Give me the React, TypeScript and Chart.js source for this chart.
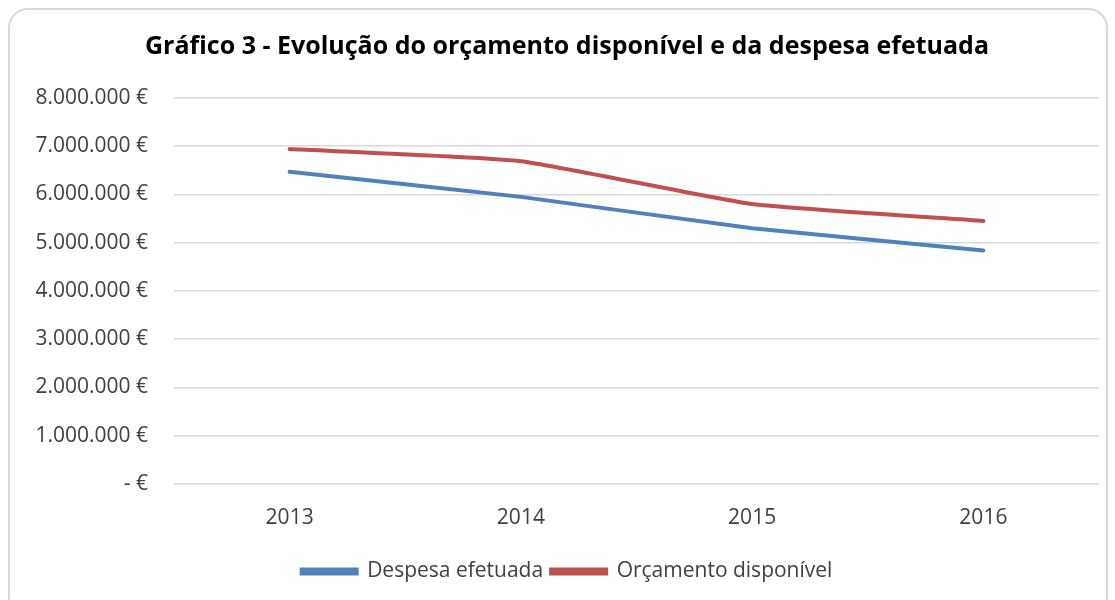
import React, { useEffect, useRef } from "react";
import { Chart, registerables } from "chart.js";

Chart.register(...registerables);

const categories = ["2013", "2014", "2015", "2016"];
const despesaEfetuada = [6470000, 5950000, 5300000, 4840000];
const orcamentoDisponivel = [6940000, 6690000, 5800000, 5450000];
const yTicks = [0, 1000000, 2000000, 3000000, 4000000, 5000000, 6000000, 7000000, 8000000];
const titleText = "Gráfico 3 - Evolução do orçamento disponível e da despesa efetuada";
const seriesNames = ["Despesa efetuada", "Orçamento disponível"];

function fmt(v: number): string {
  if (v === 0) return "- €";
  return String(Math.round(v)).replace(/\B(?=(\d{3})+(?!\d))/g, ".") + " €";
}

const FONT = "'Open Sans'";
const PAD_LEFT = 35;

export default function App() {
  const ref = useRef<HTMLCanvasElement | null>(null);
  useEffect(() => {
    if (!ref.current) return;
    const chart = new Chart(ref.current, {
      type: "line",
      data: {
        labels: categories,
        datasets: [
          {
            label: seriesNames[0],
            data: despesaEfetuada,
            borderColor: "#4F81BD",
            backgroundColor: "#4F81BD",
            borderWidth: 4,
            pointRadius: 0,
            tension: 0.15,
            borderCapStyle: "round",
          },
          {
            label: seriesNames[1],
            data: orcamentoDisponivel,
            borderColor: "#C0504D",
            backgroundColor: "#C0504D",
            borderWidth: 4,
            pointRadius: 0,
            tension: 0.15,
            borderCapStyle: "round",
          },
        ],
      },
      options: {
        animation: false,
        responsive: false,
        maintainAspectRatio: false,
        layout: { padding: { top: 0, right: 16, left: PAD_LEFT, bottom: 8 } },
        plugins: {
          title: {
            display: true,
            text: titleText,
            color: "#000000",
            font: { family: FONT, size: 25, weight: "bold" },
            padding: { top: 32, bottom: 36 },
          },
          legend: {
            position: "bottom",
            labels: {
              boxWidth: 55,
              boxHeight: 4,
              color: "#404040",
              font: { family: FONT, size: 21 },
              padding: 8,
            },
          },
          tooltip: { enabled: false },
        },
        scales: {
          x: {
            offset: true,
            grid: { display: false, drawTicks: false },
            border: { display: false },
            ticks: {
              color: "#404040",
              font: { family: FONT, size: 21 },
              padding: 22,
            },
          },
          y: {
            min: 0,
            max: 8000000,
            afterBuildTicks: (axis: any) => {
              axis.ticks = yTicks.map((v) => ({ value: v }));
            },
            afterFit: (axis: any) => {
              axis.width = 174 - PAD_LEFT;
            },
            grid: { color: "#d9d9d9", lineWidth: 1.5, drawTicks: false },
            border: { display: false },
            ticks: {
              color: "#404040",
              font: { family: FONT, size: 21 },
              padding: 26,
              callback: (v: any) => fmt(Number(v)),
            },
          },
        },
      },
    } as any);
    return () => chart.destroy();
  }, []);
  return (
    <div style={{ position: "absolute", left: 0, top: 0, width: 1115, height: 600, background: "#fff" }}>
      <div
        style={{
          position: "absolute",
          left: 8,
          top: 8,
          width: 1100,
          height: 610,
          border: "2px solid #d9d9d9",
          borderRadius: 20,
          boxSizing: "border-box",
        }}
      />
      <canvas ref={ref} width={1115} height={600} style={{ position: "absolute", left: 0, top: 0 }} />
    </div>
  );
}
